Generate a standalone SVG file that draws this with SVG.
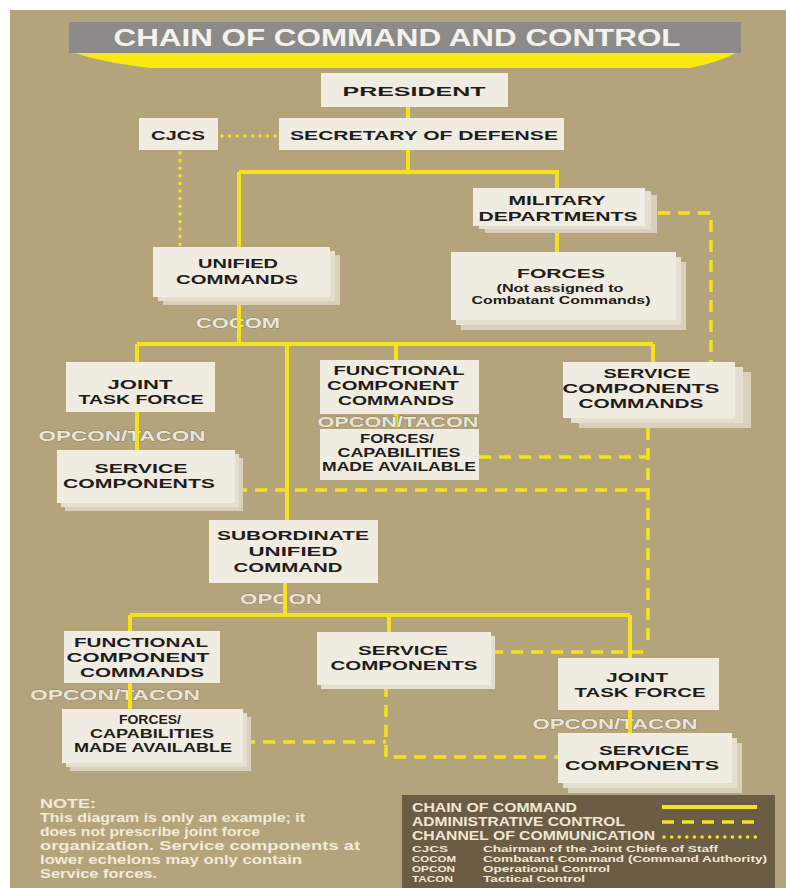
<svg xmlns="http://www.w3.org/2000/svg" width="786" height="888" viewBox="0 0 786 888">
  <style>
    .bg { fill: #b4a47c; }
    .box { fill: #f1ece2; }
    .s1 { fill: #e6dfd0; }
    .s2 { fill: #d9d0bd; }
    .n { font-family: "Liberation Sans", Arial, sans-serif; font-weight: 700; font-size: 13.4px; fill: #1f1d1a; text-anchor: middle; }
    .fc { font-size: 12.5px; }
    .sm { font-size: 10.8px; }
    .lab { font-family: "Liberation Sans", Arial, sans-serif; font-weight: 700; font-size: 15px; fill: #e8e5d9; stroke: #8a8069; stroke-width: 0.8px; paint-order: stroke; text-anchor: middle; }
    .cmd { stroke: #f4e31c; stroke-width: 4; fill: none; }
    .adm { stroke: #f4e31c; stroke-width: 3.5; fill: none; stroke-dasharray: 12 8; }
    .com { stroke: #f4e31c; stroke-width: 3.5; fill: none; stroke-dasharray: 0.1 7.5; stroke-linecap: round; }
    .note { font-family: "Liberation Sans", Arial, sans-serif; font-weight: 700; font-size: 12px; fill: #f1ebd9; }
    .leg { font-family: "Liberation Sans", Arial, sans-serif; font-weight: 700; font-size: 12.4px; fill: #efe8d5; }
    .legs { font-family: "Liberation Sans", Arial, sans-serif; font-weight: 700; font-size: 8.9px; fill: #efe8d5; }
  </style>

  <!-- page -->
  <rect x="0" y="0" width="786" height="888" fill="#ffffff"/>
  <rect class="bg" x="10" y="10" width="776" height="878"/>

  <!-- title banner -->
  <g id="title">
    <path d="M72 52 L738 52 Q720 62 690 68 L150 68 Q100 62 72 52 Z" fill="#f9e812"/>
    <rect x="69" y="22" width="672" height="31" fill="#8c8b88"/>
    <text x="397" y="46" font-family="'Liberation Sans', Arial, sans-serif" font-weight="700" font-size="24" fill="#f3f2ee" text-anchor="middle" textLength="567" lengthAdjust="spacingAndGlyphs">CHAIN OF COMMAND AND CONTROL</text>
  </g>

  <!-- relationship labels (drawn beneath the lines) -->
  <g id="labels">
    <text class="lab" x="238" y="328" textLength="84" lengthAdjust="spacingAndGlyphs">COCOM</text>
    <text class="lab" x="122" y="441" textLength="167" lengthAdjust="spacingAndGlyphs">OPCON/TACON</text>
    <text class="lab" x="281" y="604" textLength="82" lengthAdjust="spacingAndGlyphs">OPCON</text>
    <text class="lab" x="115" y="700" textLength="170" lengthAdjust="spacingAndGlyphs">OPCON/TACON</text>
    <text class="lab" x="615" y="729" textLength="165" lengthAdjust="spacingAndGlyphs">OPCON/TACON</text>
  </g>

  <!-- connectors -->
  <g id="connectors">
    <!-- chain of command -->
    <path class="cmd" d="M408 107 V172 M239 172 H559 M239 172 V247 M557 172 V188 M557 230 V252"/>
    <path class="cmd" d="M239 297 V344 M137 344 H653 M137 344 V362 M287 344 V520 M396 344 V360 M653 344 V362"/>
    <path class="cmd" d="M137 412 V450 M396 414 V428"/>
    <path class="cmd" d="M285 583 V615 M130 615 H630 M130 615 V632 M389 615 V632 M630 615 V658"/>
    <path class="cmd" d="M130 683 V709 M630 710 V733"/>
    <!-- administrative control -->
    <path class="adm" d="M658 213 H711 V362"/>
    <path class="adm" d="M648 428 V648"/>
    <path class="adm" d="M479 457 H648 M235 490 H648 M491 652 H648"/>
    <path class="adm" d="M243 742 H386 M386 685 V757 H558"/>
    <!-- channel of communication -->
    <path class="com" d="M222 136 H276 M180 153 V245"/>
  </g>

  <!-- nodes -->
  <g id="president">
    <rect class="box" x="321" y="73" width="187" height="34"/>
    <text class="n" x="414" y="96" font-size="17" textLength="143" lengthAdjust="spacingAndGlyphs">PRESIDENT</text>
  </g>
  <g id="cjcs">
    <rect class="box" x="139" y="118" width="79" height="32"/>
    <text class="n" x="178" y="140" font-size="14.5" textLength="54" lengthAdjust="spacingAndGlyphs">CJCS</text>
  </g>
  <g id="secdef">
    <rect class="box" x="279" y="118" width="285" height="32"/>
    <text class="n" x="424" y="140" font-size="14.5" textLength="268" lengthAdjust="spacingAndGlyphs">SECRETARY OF DEFENSE</text>
  </g>
  <g id="unified-commands">
    <rect class="s2" x="163" y="255" width="177" height="50"/>
    <rect class="s1" x="158" y="251" width="177" height="50"/>
    <rect class="box" x="153" y="247" width="177" height="50"/>
    <text class="n" x="238" y="268" textLength="80" lengthAdjust="spacingAndGlyphs">UNIFIED</text>
    <text class="n" x="237" y="284" textLength="122" lengthAdjust="spacingAndGlyphs">COMMANDS</text>
  </g>
  <g id="military-departments">
    <rect class="s2" x="485" y="195" width="172" height="38"/>
    <rect class="s1" x="479" y="191" width="172" height="38"/>
    <rect class="box" x="473" y="188" width="172" height="38"/>
    <text class="n" x="557" y="205" textLength="97" lengthAdjust="spacingAndGlyphs">MILITARY</text>
    <text class="n" x="558" y="221" textLength="159" lengthAdjust="spacingAndGlyphs">DEPARTMENTS</text>
  </g>
  <g id="forces">
    <rect class="s2" x="461" y="262" width="225" height="68"/>
    <rect class="s1" x="456" y="257" width="225" height="68"/>
    <rect class="box" x="451" y="252" width="225" height="68"/>
    <text class="n" x="561" y="278" font-size="15" textLength="88" lengthAdjust="spacingAndGlyphs">FORCES</text>
    <text class="n sm" x="560" y="292" textLength="127" lengthAdjust="spacingAndGlyphs">(Not assigned to</text>
    <text class="n sm" x="561" y="304" textLength="179" lengthAdjust="spacingAndGlyphs">Combatant Commands)</text>
  </g>
  <g id="jtf-upper">
    <rect class="box" x="66" y="362" width="149" height="50"/>
    <text class="n" x="140" y="389" textLength="65" lengthAdjust="spacingAndGlyphs">JOINT</text>
    <text class="n" x="141" y="404" textLength="125" lengthAdjust="spacingAndGlyphs">TASK FORCE</text>
  </g>
  <g id="service-components-upper">
    <rect class="s2" x="65" y="458" width="178" height="53"/>
    <rect class="s1" x="61" y="454" width="178" height="53"/>
    <rect class="box" x="57" y="450" width="178" height="53"/>
    <text class="n" x="141" y="473" textLength="93" lengthAdjust="spacingAndGlyphs">SERVICE</text>
    <text class="n" x="139" y="488" textLength="152" lengthAdjust="spacingAndGlyphs">COMPONENTS</text>
  </g>
  <g id="fcc-upper">
    <rect class="box" x="320" y="360" width="159" height="54"/>
    <text class="n" x="399" y="375" textLength="131" lengthAdjust="spacingAndGlyphs">FUNCTIONAL</text>
    <text class="n" x="393" y="390" textLength="132" lengthAdjust="spacingAndGlyphs">COMPONENT</text>
    <text class="n" x="396" y="405" textLength="116" lengthAdjust="spacingAndGlyphs">COMMANDS</text>
  </g>
  <g id="forces-capabilities-upper">
    <rect class="box" x="320" y="429" width="159" height="51"/>
    <text class="n fc" x="397" y="443" textLength="74" lengthAdjust="spacingAndGlyphs">FORCES/</text>
    <text class="n fc" x="399" y="457" textLength="123" lengthAdjust="spacingAndGlyphs">CAPABILITIES</text>
    <text class="n fc" x="399" y="471" textLength="154" lengthAdjust="spacingAndGlyphs">MADE AVAILABLE</text>
  </g>
  <!-- label placed between the two stacked functional boxes -->
  <text class="lab" x="398" y="427" textLength="161" lengthAdjust="spacingAndGlyphs">OPCON/TACON</text>
  <g id="service-components-commands">
    <rect class="s2" x="579" y="372" width="172" height="56"/>
    <rect class="s1" x="571" y="367" width="172" height="56"/>
    <rect class="box" x="563" y="362" width="172" height="56"/>
    <text class="n" x="647" y="378" textLength="87" lengthAdjust="spacingAndGlyphs">SERVICE</text>
    <text class="n" x="641" y="393" textLength="157" lengthAdjust="spacingAndGlyphs">COMPONENTS</text>
    <text class="n" x="641" y="408" textLength="125" lengthAdjust="spacingAndGlyphs">COMMANDS</text>
  </g>
  <g id="subordinate-unified-command">
    <rect class="box" x="209" y="520" width="169" height="63"/>
    <text class="n" x="293" y="540" textLength="152" lengthAdjust="spacingAndGlyphs">SUBORDINATE</text>
    <text class="n" x="293" y="556" textLength="89" lengthAdjust="spacingAndGlyphs">UNIFIED</text>
    <text class="n" x="288" y="572" textLength="109" lengthAdjust="spacingAndGlyphs">COMMAND</text>
  </g>
  <g id="fcc-lower">
    <rect class="box" x="64" y="631" width="156" height="52"/>
    <text class="n" x="141" y="647" textLength="134" lengthAdjust="spacingAndGlyphs">FUNCTIONAL</text>
    <text class="n" x="138" y="662" textLength="143" lengthAdjust="spacingAndGlyphs">COMPONENT</text>
    <text class="n" x="142" y="677" textLength="124" lengthAdjust="spacingAndGlyphs">COMMANDS</text>
  </g>
  <g id="forces-capabilities-lower">
    <rect class="s2" x="70" y="717" width="181" height="54"/>
    <rect class="s1" x="66" y="713" width="181" height="54"/>
    <rect class="box" x="62" y="709" width="181" height="54"/>
    <text class="n fc" x="150" y="724" textLength="62" lengthAdjust="spacingAndGlyphs">FORCES/</text>
    <text class="n fc" x="152" y="738" textLength="124" lengthAdjust="spacingAndGlyphs">CAPABILITIES</text>
    <text class="n fc" x="153" y="752" textLength="158" lengthAdjust="spacingAndGlyphs">MADE AVAILABLE</text>
  </g>
  <g id="service-components-middle">
    <rect class="s1" x="321" y="636" width="174" height="53"/>
    <rect class="box" x="317" y="632" width="174" height="53"/>
    <text class="n" x="403" y="655" textLength="90" lengthAdjust="spacingAndGlyphs">SERVICE</text>
    <text class="n" x="404" y="670" textLength="147" lengthAdjust="spacingAndGlyphs">COMPONENTS</text>
  </g>
  <g id="jtf-lower">
    <rect class="box" x="558" y="658" width="161" height="52"/>
    <text class="n" x="637" y="682" textLength="62" lengthAdjust="spacingAndGlyphs">JOINT</text>
    <text class="n" x="640" y="697" textLength="131" lengthAdjust="spacingAndGlyphs">TASK FORCE</text>
  </g>
  <g id="service-components-lower">
    <rect class="s2" x="568" y="743" width="174" height="50"/>
    <rect class="s1" x="563" y="738" width="174" height="50"/>
    <rect class="box" x="558" y="733" width="174" height="50"/>
    <text class="n" x="644" y="755" textLength="90" lengthAdjust="spacingAndGlyphs">SERVICE</text>
    <text class="n" x="642" y="770" textLength="154" lengthAdjust="spacingAndGlyphs">COMPONENTS</text>
  </g>

  <!-- note -->
  <g id="note">
    <text class="note" x="40" y="808" textLength="56" lengthAdjust="spacingAndGlyphs">NOTE:</text>
    <text class="note" x="40" y="822" textLength="265" lengthAdjust="spacingAndGlyphs">This diagram is only an example; it</text>
    <text class="note" x="40" y="836" textLength="220" lengthAdjust="spacingAndGlyphs">does not prescribe joint force</text>
    <text class="note" x="40" y="850" textLength="320" lengthAdjust="spacingAndGlyphs">organization.  Service components at</text>
    <text class="note" x="40" y="864" textLength="262" lengthAdjust="spacingAndGlyphs">lower echelons may only contain</text>
    <text class="note" x="40" y="878" textLength="117" lengthAdjust="spacingAndGlyphs">Service forces.</text>
  </g>

  <!-- legend -->
  <g id="legend">
    <rect x="402" y="795" width="373" height="93" fill="#6b5c46"/>
    <text class="leg" x="412" y="812" textLength="165" lengthAdjust="spacingAndGlyphs">CHAIN OF COMMAND</text>
    <text class="leg" x="412" y="826" textLength="213" lengthAdjust="spacingAndGlyphs">ADMINISTRATIVE CONTROL</text>
    <text class="leg" x="412" y="840" textLength="243" lengthAdjust="spacingAndGlyphs">CHANNEL OF COMMUNICATION</text>
    <line class="cmd" x1="662" y1="807" x2="757" y2="807" stroke-width="3"/>
    <line class="adm" x1="662" y1="822" x2="757" y2="822" stroke-width="3" stroke-dasharray="11 6"/>
    <line class="com" x1="664" y1="837" x2="762" y2="837" stroke-width="3.5" stroke-dasharray="0.1 13"/>
    <text class="legs" x="412" y="852" textLength="36" lengthAdjust="spacingAndGlyphs">CJCS</text>
    <text class="legs" x="412" y="862" textLength="44" lengthAdjust="spacingAndGlyphs">COCOM</text>
    <text class="legs" x="412" y="872" textLength="43" lengthAdjust="spacingAndGlyphs">OPCON</text>
    <text class="legs" x="412" y="882" textLength="41" lengthAdjust="spacingAndGlyphs">TACON</text>
    <text class="legs" x="483" y="852" textLength="235" lengthAdjust="spacingAndGlyphs">Chairman of the Joint Chiefs of Staff</text>
    <text class="legs" x="483" y="862" textLength="284" lengthAdjust="spacingAndGlyphs">Combatant Command (Command Authority)</text>
    <text class="legs" x="483" y="872" textLength="127" lengthAdjust="spacingAndGlyphs">Operational Control</text>
    <text class="legs" x="483" y="882" textLength="102" lengthAdjust="spacingAndGlyphs">Tactical Control</text>
  </g>
</svg>
